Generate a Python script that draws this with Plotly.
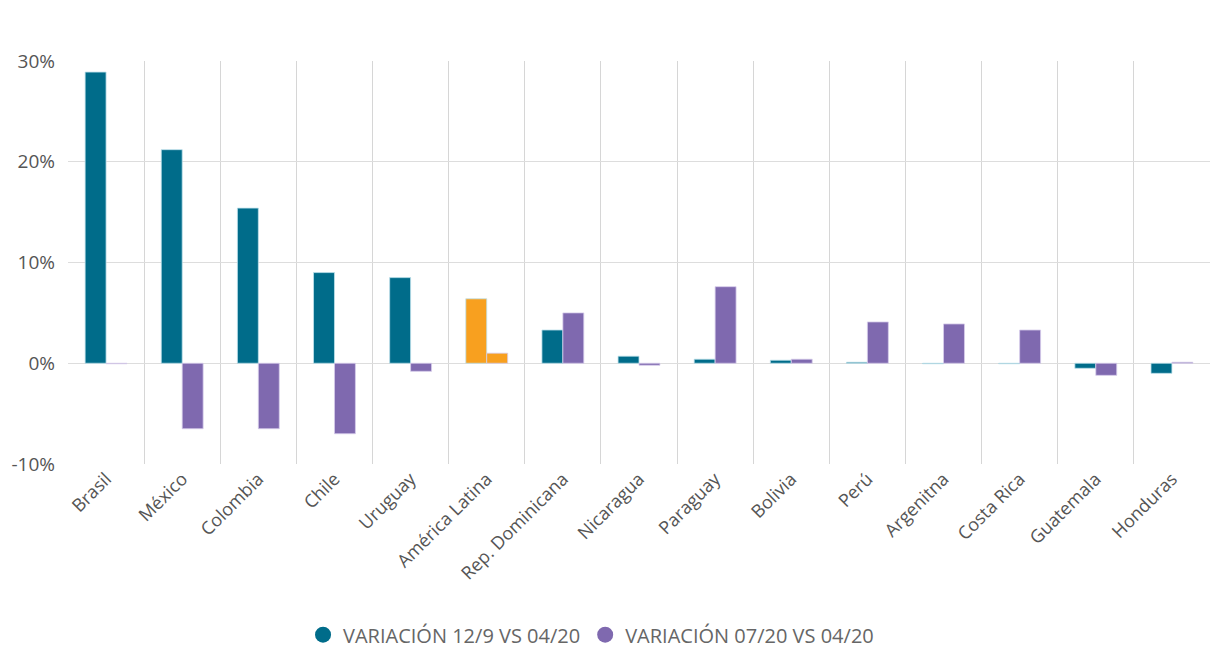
import plotly.graph_objects as go

categories = ["Brasil", "México", "Colombia", "Chile", "Uruguay", "América Latina",
              "Rep. Dominicana", "Nicaragua", "Paraguay", "Bolivia", "Perú",
              "Argenitna", "Costa Rica", "Guatemala", "Honduras"]
var_12_9 = [28.9, 21.2, 15.4, 9.0, 8.5, 6.4, 3.3, 0.7, 0.4, 0.3, 0.1, -0.05, -0.05, -0.5, -1.0]
var_07_20 = [-0.05, -6.5, -6.5, -7.0, -0.8, 1.0, 5.0, -0.2, 7.6, 0.4, 4.1, 3.9, 3.3, -1.2, 0.1]
series_names = ["VARIACIÓN 12/9 VS 04/20", "VARIACIÓN 07/20 VS 04/20"]
y_ticks = [-10, 0, 10, 20, 30]

TEAL = "#006C8A"
PURPLE = "#7F69AF"
ORANGE = "#F8A01F"
highlight = "América Latina"

c1 = [ORANGE if c == highlight else TEAL for c in categories]
c2 = [ORANGE if c == highlight else PURPLE for c in categories]

fig = go.Figure()
fig.add_trace(go.Bar(x=categories, y=var_12_9, name=series_names[0], showlegend=False,
                     marker=dict(color=c1, line=dict(color="rgba(190,225,235,0.8)", width=1))))
fig.add_trace(go.Bar(x=categories, y=var_07_20, name=series_names[1], showlegend=False,
                     marker=dict(color=c2, line=dict(color="rgba(215,205,235,0.8)", width=1))))
# legend entries with circle symbols
fig.add_trace(go.Scatter(x=[None], y=[None], mode="markers", name=series_names[0],
                         marker=dict(color=TEAL, size=16, symbol="circle")))
fig.add_trace(go.Scatter(x=[None], y=[None], mode="markers", name=series_names[1],
                         marker=dict(color=PURPLE, size=16, symbol="circle")))

font_family = "Open Sans, sans-serif"
fig.update_layout(
    width=1230, height=653,
    margin=dict(l=68, r=20, t=61, b=189, autoexpand=False),
    plot_bgcolor="white", paper_bgcolor="white",
    barmode="group", bargap=0.45, bargroupgap=0,
    font=dict(family=font_family, color="#555555", size=15),
    legend=dict(orientation="h", x=0.458, xanchor="center", yref="container",
                y=0.028, yanchor="middle",
                font=dict(size=20, color="#666666"), itemsizing="trace",
                itemwidth=30, tracegroupgap=0),
)
fig.update_xaxes(type="category", tickson="boundaries", showgrid=True,
                 gridcolor="#d6d6d6", gridwidth=1, tickangle=-45,
                 ticks="", tickfont=dict(size=18, color="#555555"),
                 showline=False, zeroline=False, automargin=False)
fig.update_yaxes(range=[-10, 30], tickvals=y_ticks, ticktext=[f"{v}%" for v in y_ticks],
                 showgrid=True, gridcolor="#dddddd", gridwidth=1,
                 zeroline=True, zerolinecolor="#dddddd", zerolinewidth=1,
                 tickfont=dict(size=19, color="#555555"), ticks="",
                 ticklabelstandoff=12, automargin=False)
fig.write_html("out.html")
